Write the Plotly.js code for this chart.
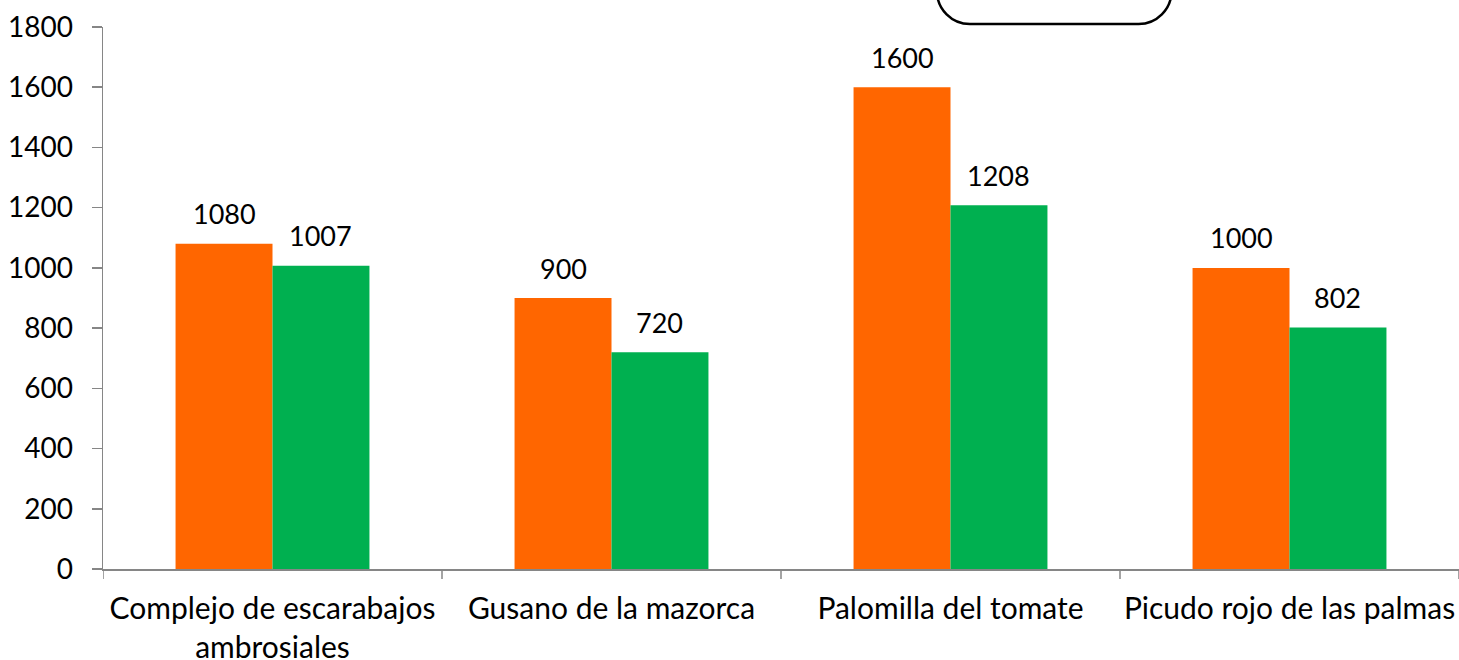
<!DOCTYPE html>
<html>
<head>
<meta charset="utf-8">
<script src="https://cdn.plot.ly/plotly-3.0.1.min.js"></script>
<style>html,body{margin:0;padding:0;background:#fff;}#chart{width:1459px;height:660px;}</style>
</head>
<body>
<div id="chart"></div>
<script>
var categories = ["Complejo de escarabajos<br>ambrosiales", "Gusano de la mazorca", "Palomilla del tomate", "Picudo rojo de las palmas"];
var seriesA = [1080, 900, 1600, 1000];
var seriesB = [1007, 720, 1208, 802];
var yTicks = [0, 200, 400, 600, 800, 1000, 1200, 1400, 1600, 1800];

var orange = "#FF6600";
var green = "#00B050";
var axisColor = "#868686";
var fontFam = "Lato, 'Open Sans', sans-serif";
var bargap = 0.428;
var off = (1 - bargap) / 4;

var traces = [
  {type: "bar", x: [0,1,2,3], y: seriesA, marker: {color: orange}, hoverinfo: "none", name: "A"},
  {type: "bar", x: [0,1,2,3], y: seriesB, marker: {color: green}, hoverinfo: "none", name: "B"}
];

var annotations = [];
seriesA.forEach(function(v, i) {
  annotations.push({x: i - off, y: v, xref: "x", yref: "y", text: String(v), showarrow: false,
    yanchor: "middle", yshift: 30, font: {family: fontFam, size: 27, color: "#000"}});
});
seriesB.forEach(function(v, i) {
  annotations.push({x: i + off, y: v, xref: "x", yref: "y", text: String(v), showarrow: false,
    yanchor: "middle", yshift: 30, font: {family: fontFam, size: 27, color: "#000"}});
});

// rounded box partially visible at top
var x0 = 0.615, x1 = 0.788, yb = 1.0055, yt = 1.2, rx = 0.0243, ry = 0.0609, k = 0.4477;
var boxPath = "M" + x0 + "," + yt + " L" + x0 + "," + (yb + ry) +
  " C" + x0 + "," + (yb + ry * k) + " " + (x0 + rx * k) + "," + yb + " " + (x0 + rx) + "," + yb +
  " L" + (x1 - rx) + "," + yb +
  " C" + (x1 - rx * k) + "," + yb + " " + x1 + "," + (yb + ry * k) + " " + x1 + "," + (yb + ry) +
  " L" + x1 + "," + yt;

var layout = {
  width: 1459, height: 660,
  margin: {l: 103, r: 0, t: 27, b: 91},
  paper_bgcolor: "#fff", plot_bgcolor: "#fff",
  showlegend: false,
  barmode: "group",
  bargap: bargap,
  bargroupgap: 0,
  font: {family: fontFam, size: 27, color: "#000"},
  xaxis: {
    type: "linear",
    range: [-0.5, 3.5],
    tickmode: "array",
    tickvals: [0,1,2,3],
    ticktext: categories,
    showgrid: false, zeroline: false,
    showline: true, linecolor: axisColor, linewidth: 1.5,
    ticks: "",
    ticklabelstandoff: 12,
    tickfont: {family: fontFam, size: 30, color: "#000"},
    fixedrange: true
  },
  yaxis: {
    range: [0, 1800],
    tickmode: "array",
    tickvals: yTicks,
    showgrid: false, zeroline: false,
    showline: true, linecolor: axisColor, linewidth: 1.5,
    ticks: "outside", ticklen: 10, tickcolor: axisColor, tickwidth: 1.5,
    ticklabelstandoff: 13,
    tickfont: {family: fontFam, size: 28, color: "#000"},
    fixedrange: true
  },
  annotations: annotations,
  shapes: [
    {type: "path", xref: "paper", yref: "paper", path: boxPath, line: {color: "#000", width: 2.5}, fillcolor: "rgba(0,0,0,0)", layer: "above"}
  ]
};

// category boundary ticks on x axis
[-0.5, 0.5, 1.5, 2.5, 3.5].forEach(function(b) {
  layout.shapes.push({type: "line", xref: "x", yref: "paper", x0: b, x1: b,
    line: {color: axisColor, width: 1.5}, ysizemode: "pixel", yanchor: 0, y0: 0, y1: -10});
});

Plotly.newPlot("chart", traces, layout, {displayModeBar: false, staticPlot: true});
</script>
</body>
</html>
